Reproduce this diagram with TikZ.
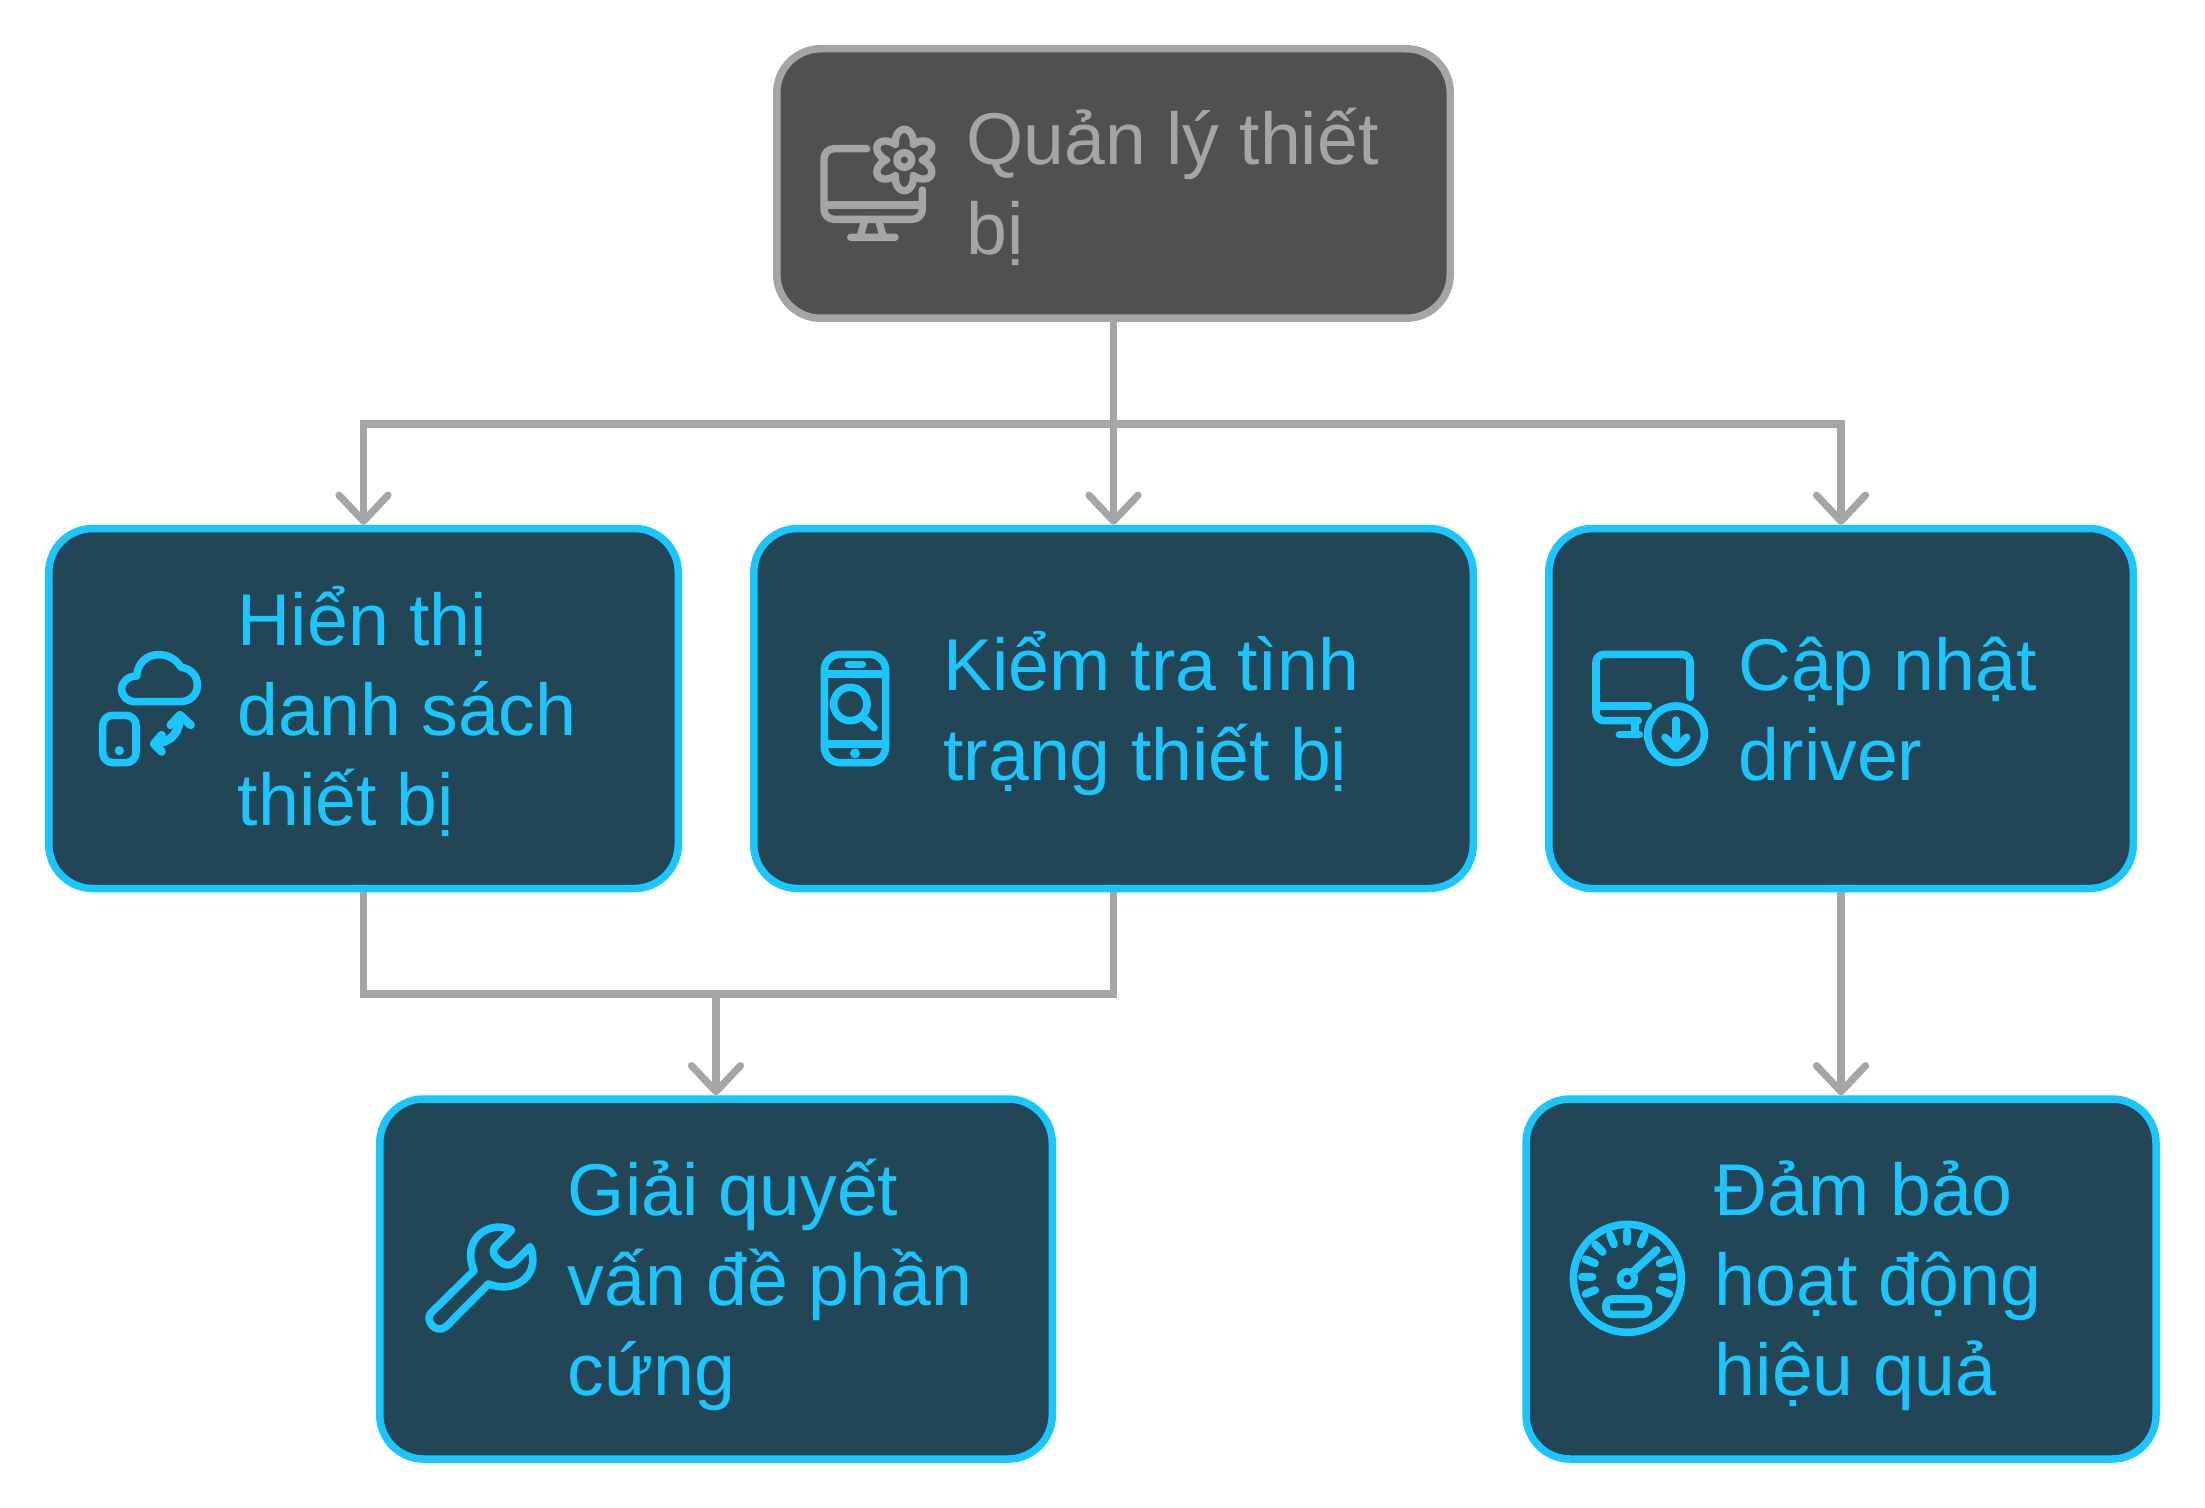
\documentclass[tikz,border=0pt]{standalone}
\usepackage{fontspec}
\setmainfont{Liberation Sans}
\usetikzlibrary{arrows.meta}
\definecolor{rootfill}{HTML}{505050}
\definecolor{rootline}{HTML}{A5A5A5}
\definecolor{stepfill}{HTML}{224655}
\definecolor{stepline}{HTML}{1AC6FF}
\tikzset{>={Straight Barb[length=13pt,width=24.5pt,line cap=round,round]}}
\tikzset{
	rootbox/.style = {draw = rootline, fill = rootfill, line width = 3.75pt, rounded corners = 22pt},
	stepbox/.style = {draw = stepline, fill = stepfill, line width = 3.75pt, rounded corners = 22pt, minimum height = 180pt},
	rootlabel/.style = {rootline, anchor = base west, align = left, inner sep = 0pt, font = \fontsize{36.7}{45}\selectfont},
	steplabel/.style = {stepline, anchor = base west, align = left, inner sep = 0pt, font = \fontsize{36.7}{45}\selectfont},
	link/.style = {rootline, line width = 3.6pt},
	stepicon/.style = {stepline, line width = 3.8pt, line cap = round, line join = round},
	rooticon/.style = {rootline, line width = 3.7pt, line cap = round, line join = round}
}

\begin{document}
\begin{tikzpicture}[x = 0.5pt, y = -0.5pt]
\useasboundingbox (0,0) rectangle (2205,1508);

\node[rootbox, minimum width = 336.75pt, minimum height = 134.75pt] (mgmt) at (1113.5,183.5) {};
\node[stepbox, minimum width = 314.75pt] (display) at (363.5,708.5) {};
\node[stepbox, minimum width = 359.75pt] (check) at (1113.5,708.5) {};
\node[stepbox, minimum width = 292.25pt] (driver) at (1841,708.5) {};
\node[stepbox, minimum width = 336.25pt] (repair) at (716,1279) {};
\node[stepbox, minimum width = 315pt] (perf) at (1841,1279) {};

\node[rootlabel] (mgmttext) at (966,255) {Quản lý thiết\\bị};
\node[steplabel] (displaytext) at (237.5,825.5) {Hiển thị\\danh sách\\thiết bị};
\node[steplabel] (checktext) at (943,780.5) {Kiểm tra tình\\trạng thiết bị};
\node[steplabel] (drivertext) at (1738.5,780.5) {Cập nhật\\driver};
\node[steplabel] (repairtext) at (567.5,1395.5) {Giải quyết\\vấn đề phần\\cứng};
\node[steplabel] (perftext) at (1714.5,1395.5) {Đảm bảo\\hoạt động\\hiệu quả};

\coordinate (busa) at (1113.5,424);
\coordinate (busb) at (716,994);

\foreach \t in {display, check, driver}
	\draw[link, ->] (mgmt.south) -- (mgmt.south |- busa) -| (\t.north);
\draw[link] (display.south) |- (busb) -| (check.south);
\draw[link, ->] (busb) -- (repair.north);
\draw[link, ->] (driver.south) -- (perf.north);

% icons: coordinates are those of a 3x crop
\begin{scope}[shift = {(810,110)}, scale = 1/3, rooticon]
\draw[rounded corners = 5pt] (170,116) -- (42,116) -- (42,328) -- (337,328) -- (337,240);
\draw (42,285) -- (337,285);
\draw (165,328) -- (150,382) (205,328) -- (220,382) (122,382) -- (255,382);
\draw plot[domain = 0:360, samples = 145] ({283 + (54 + 38 * abs(sin(3 * \x))) * cos(\x)}, {150 + (54 + 38 * abs(sin(3 * \x))) * sin(\x)}) -- cycle;
\draw (283,150) circle [radius = 22];
\end{scope}

\begin{scope}[shift = {(80,630)}, scale = 1/3, stepicon]
\draw (165,215) -- (300,215) .. controls (330,215) and (352,195) .. (352,165)
	.. controls (352,135) and (330,115) .. (303,112)
	.. controls (290,90) and (268,74) .. (235,74)
	.. controls (200,74) and (172,100) .. (170,138)
	.. controls (145,138) and (125,155) .. (125,177)
	.. controls (125,200) and (143,215) .. (165,215) -- cycle;
\draw[rounded corners = 5pt] (68,256) rectangle (168,398);
\fill (118,362) circle [radius = 14];
\draw[line width = 4.2pt] (300,258) .. controls (300,300) and (280,335) .. (225,342);
\draw[line width = 4.2pt] (272,285) -- (300,255) -- (332,285);
\draw[line width = 4.2pt] (245,315) -- (222,342) -- (245,365);
\end{scope}

\begin{scope}[shift = {(800,630)}, scale = 1/3, stepicon]
\draw[rounded corners = 8pt] (73,73) rectangle (257,398);
\draw (73,132) -- (257,132) (73,342) -- (257,342);
\draw (145,103) -- (187,103);
\fill (165,370) circle [radius = 15];
\draw (151,222) circle [radius = 50];
\draw (190,262) -- (222,293);
\end{scope}

\begin{scope}[shift = {(1580,630)}, scale = 1/3, stepicon]
\draw[rounded corners = 4pt] (330,202) -- (330,73) -- (48,73) -- (48,272) -- (175,272);
\draw (48,228) -- (205,228);
\draw (165,272) -- (165,314) (118,314) -- (178,314);
\draw (288,313) circle [radius = 85];
\draw (288,270) -- (288,355);
\draw (255,322) -- (288,355) -- (320,322);
\end{scope}

\begin{scope}[shift = {(410,1200)}, scale = 1/3, stepicon]
\draw (305,90) .. controls (255,65) and (182,95) .. (182,165)
	.. controls (182,180) and (185,198) .. (192,212)
	-- (62,340) .. controls (45,358) and (75,405) .. (108,380)
	-- (235,252) .. controls (310,280) and (375,235) .. (368,170)
	.. controls (367,158) and (364,148) .. (360,140)
	-- (310,190) .. controls (295,200) and (280,195) .. (265,180)
	.. controls (250,165) and (245,155) .. (255,140) -- cycle;
\end{scope}

\begin{scope}[shift = {(1560,1200)}, scale = 1/3, stepicon]
\draw (202,235) circle [radius = 162];
\foreach \a in {90, 67.5, 22.5, 0, -22.5, 112.5, 135, 157.5, 180, 202.5}
	\draw[line width = 4pt] ({202 + 105 * cos(\a)}, {230 - 105 * sin(\a)}) -- ({202 + 136 * cos(\a)}, {230 - 136 * sin(\a)});
\draw[line width = 3.4pt] (202,236) circle [radius = 22];
\draw[line width = 4pt] (220,215) -- (290,150);
\draw[rounded corners = 3pt] (138,297) rectangle (265,343);
\end{scope}

\end{tikzpicture}
\end{document}
